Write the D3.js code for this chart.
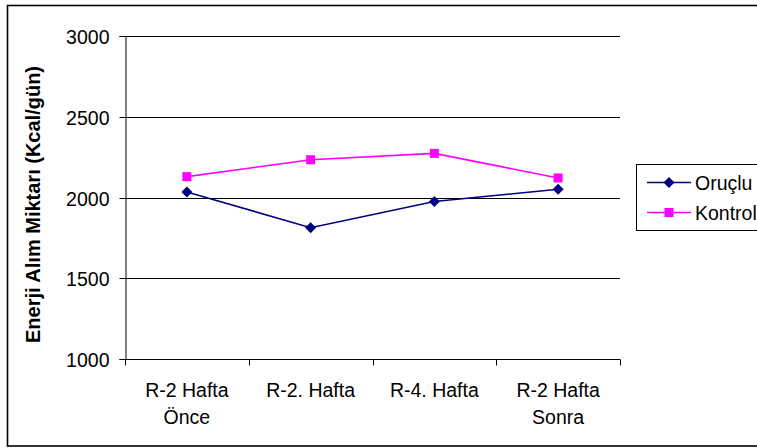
<!DOCTYPE html>
<html>
<head>
<meta charset="utf-8">
<script src="https://cdn.jsdelivr.net/npm/d3@7"></script>
<style>
  html, body { margin: 0; padding: 0; background: #fff; }
  svg { display: block; }
  text { font-family: "Liberation Sans", Arial, sans-serif; fill: #000; }
</style>
</head>
<body>
<svg id="chart" width="757" height="448"></svg>
<script>
// Energy intake (kcal/day) across the four measurement periods
const categories = [["R-2 Hafta", "Önce"], ["R-2. Hafta"], ["R-4. Hafta"], ["R-2 Hafta", "Sonra"]];
const oruclu = [2034, 1813, 1975, 2051];
const kontrol = [2129, 2234, 2273, 2121];
const yTicks = [1000, 1500, 2000, 2500, 3000];
const seriesNames = ["Oruçlu", "Kontrol"];
const seriesColors = ["#000080", "#FF00FF"];

const svg = d3.select("#chart");
const FONT = "19.5px";

// outer chart frame (right edge runs past the canvas)
svg.append("rect")
  .attr("x", 7.5).attr("y", 5.5)
  .attr("width", 820).attr("height", 440.5)
  .attr("fill", "none").attr("stroke", "#000").attr("stroke-width", 1.6);

const plot = { left: 125, right: 620, top: 36, bottom: 359 };

const x = d3.scaleBand()
  .domain(d3.range(categories.length))
  .range([plot.left, plot.right])
  .padding(0);

const y = d3.scaleLinear()
  .domain([1000, 3000])
  .range([plot.bottom, plot.top]);

// horizontal gridlines
svg.append("g")
  .selectAll("line")
  .data(yTicks.filter(t => t !== 1000))
  .join("line")
  .attr("x1", plot.left).attr("x2", plot.right)
  .attr("y1", d => Math.round(y(d)) + 0.5).attr("y2", d => Math.round(y(d)) + 0.5)
  .attr("stroke", "#000").attr("stroke-width", 1);

// y axis
const yAxis = svg.append("g")
  .attr("transform", `translate(${plot.left + 0.5},0)`)
  .call(d3.axisLeft(y).tickValues(yTicks).tickSize(6).tickPadding(10).tickFormat(d3.format("d")));
yAxis.select(".domain").attr("stroke", "#000");
yAxis.selectAll(".tick line").attr("stroke", "#000");
yAxis.selectAll(".tick").attr("transform", d => `translate(0,${Math.round(y(d)) + 0.5})`);
yAxis.selectAll("text")
  .style("font-size", FONT)
  .style("font-family", "'Liberation Sans', Arial, sans-serif")
  .attr("fill", "#000")
  .attr("dy", "0.4em");

// x axis baseline and category boundary ticks
const xBase = Math.round(y(1000)) + 0.5;
svg.append("line")
  .attr("x1", plot.left).attr("x2", plot.right)
  .attr("y1", xBase).attr("y2", xBase)
  .attr("stroke", "#000");
const bounds = d3.range(categories.length + 1).map(i => i < categories.length ? x(i) : x(i - 1) + x.bandwidth());
svg.append("g")
  .selectAll("line")
  .data(bounds)
  .join("line")
  .attr("x1", d => Math.round(d) + 0.5).attr("x2", d => Math.round(d) + 0.5)
  .attr("y1", xBase).attr("y2", xBase + 6)
  .attr("stroke", "#000");

// category labels (possibly two lines)
const catG = svg.append("g");
categories.forEach((lines, i) => {
  const cx = x(i) + x.bandwidth() / 2;
  const t = catG.append("text")
    .attr("text-anchor", "middle")
    .attr("x", cx)
    .attr("y", 397)
    .style("font-size", FONT);
  lines.forEach((ln, j) => {
    t.append("tspan")
      .attr("x", cx)
      .attr("dy", j === 0 ? 0 : 26.5)
      .text(ln);
  });
});

// y axis title
svg.append("text")
  .attr("transform", `translate(40, ${(plot.top + plot.bottom) / 2 + 7}) rotate(-90)`)
  .attr("text-anchor", "middle")
  .style("font-size", "20px")
  .style("font-weight", "bold")
  .text("Enerji Alım Miktarı (Kcal/gün)");

// marker shapes
const diamond = (cx, cy, r) => `M${cx},${cy - r}L${cx + r},${cy}L${cx},${cy + r}L${cx - r},${cy}Z`;
const square = (cx, cy, r) => `M${cx - r},${cy - r}H${cx + r}V${cy + r}H${cx - r}Z`;
const markers = [(cx, cy) => diamond(cx, cy, 5.5), (cx, cy) => square(cx, cy, 4.5)];

const line = d3.line()
  .x((d, i) => x(i) + x.bandwidth() / 2)
  .y(d => y(d));

[oruclu, kontrol].forEach((vals, s) => {
  svg.append("path")
    .datum(vals)
    .attr("d", line)
    .attr("fill", "none")
    .attr("stroke", seriesColors[s])
    .attr("stroke-width", 1.6);
  svg.append("g")
    .selectAll("path")
    .data(vals)
    .join("path")
    .attr("d", (d, i) => markers[s](x(i) + x.bandwidth() / 2, y(d)))
    .attr("fill", seriesColors[s]);
});

// legend
const lg = svg.append("g");
lg.append("rect")
  .attr("x", 636.5).attr("y", 164.5)
  .attr("width", 140).attr("height", 66)
  .attr("fill", "#fff").attr("stroke", "#000").attr("stroke-width", 1);
seriesNames.forEach((name, s) => {
  const ly = 182.5 + s * 30;
  lg.append("line")
    .attr("x1", 647).attr("x2", 691)
    .attr("y1", ly).attr("y2", ly)
    .attr("stroke", seriesColors[s]).attr("stroke-width", 1.6);
  lg.append("path")
    .attr("d", markers[s](669, ly))
    .attr("fill", seriesColors[s]);
  lg.append("text")
    .attr("x", 695).attr("y", ly)
    .attr("dy", "0.37em")
    .style("font-size", FONT)
    .text(name);
});
</script>
</body>
</html>
